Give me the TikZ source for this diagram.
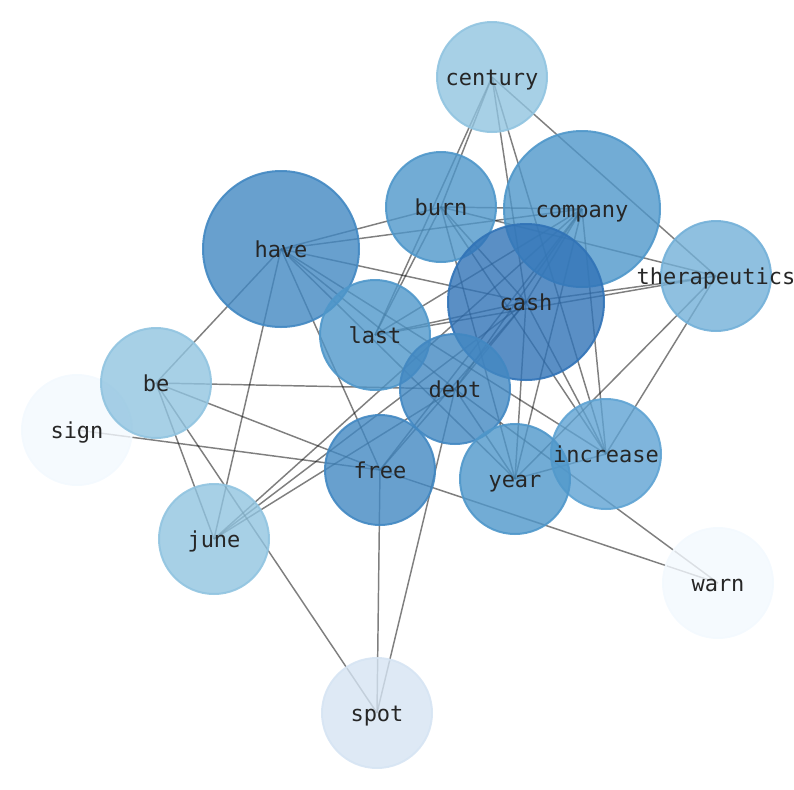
\documentclass[tikz,border=0pt]{standalone}
\usepackage{fontspec}
\newfontfamily\labfont{DejaVu Sans Mono}
\pgfdeclarelayer{bg}
\pgfdeclarelayer{fg}
\pgfsetlayers{bg,main,fg}
\definecolor{cA}{RGB}{49,115,183}
\definecolor{cB}{RGB}{66,136,194}
\definecolor{cC}{RGB}{79,151,202}
\definecolor{cD}{RGB}{95,163,211}
\definecolor{cE}{RGB}{115,176,216}
\definecolor{cF}{RGB}{145,196,224}
\definecolor{cG}{RGB}{214,228,243}
\definecolor{cH}{RGB}{243,249,254}
\definecolor{labcol}{RGB}{38,38,38}
\tikzset{
  wnode/.style={circle,inner sep=0pt,minimum size=110*0.75pt,fill=#1,draw=#1,fill opacity=0.8,draw opacity=0.9,line width=1.5pt},
  bignode/.style={wnode=#1,minimum size=156*0.75pt},
  link/.style={draw=black,draw opacity=0.5,line width=1.1pt},
  lab/.style={font=\labfont\fontsize{16.5}{18}\selectfont,text=labcol,inner sep=0pt,text height=12pt,text depth=0pt}
}
\begin{document}
\begin{tikzpicture}[x=0.75pt,y=-0.75pt]
\useasboundingbox (0,0) rectangle (794,790);
\clip (0,0) rectangle (794,790);
% circles (drawing order matters)
\node[wnode=cH] (sign) at (77,430) {};
\node[wnode=cH] (warn) at (718,583) {};
\node[wnode=cG] (spot) at (377,713) {};
\node[wnode=cF] (century) at (492,77) {};
\node[wnode=cE] (therapeutics) at (716,276) {};
\node[wnode=cF] (be) at (156,383) {};
\node[wnode=cF] (june) at (214,539) {};
\node[wnode=cC] (burn) at (441,207) {};
\node[bignode=cC] (company) at (582,209) {};
\node[bignode=cB] (have) at (281,249) {};
\node[wnode=cC] (last) at (375,335) {};
\node[bignode=cA] (cash) at (526,302) {};
\node[wnode=cD] (increase) at (606,454) {};
\node[wnode=cB] (debt) at (455,389) {};
\node[wnode=cC] (year) at (515,479) {};
\node[wnode=cB] (free) at (380,470) {};
% edges
\begin{pgfonlayer}{bg}
\foreach \a/\b in {century/burn,century/last,century/cash,century/increase,century/therapeutics,
  burn/have,burn/company,burn/last,burn/therapeutics,burn/cash,burn/year,burn/increase,
  have/company,have/cash,have/debt,have/year,have/increase,have/free,have/june,have/be,
  company/cash,company/last,company/debt,company/year,company/increase,company/june,company/free,
  cash/last,cash/therapeutics,cash/debt,cash/year,cash/increase,cash/june,cash/free,
  therapeutics/last,therapeutics/increase,therapeutics/year,
  be/debt,be/free,be/june,be/spot,sign/free,
  debt/year,debt/june,debt/spot,debt/warn,
  free/warn,free/spot,year/increase}
  \draw[link] (\a.center) -- (\b.center);
\end{pgfonlayer}
% labels
\begin{pgfonlayer}{fg}
\foreach \n in {century,company,burn,have,cash,therapeutics,last,be,debt,sign,free,year,increase,june,warn,spot}
  \node[lab] (l\n) at (\n.center) {\n};
\end{pgfonlayer}
\end{tikzpicture}
\end{document}
